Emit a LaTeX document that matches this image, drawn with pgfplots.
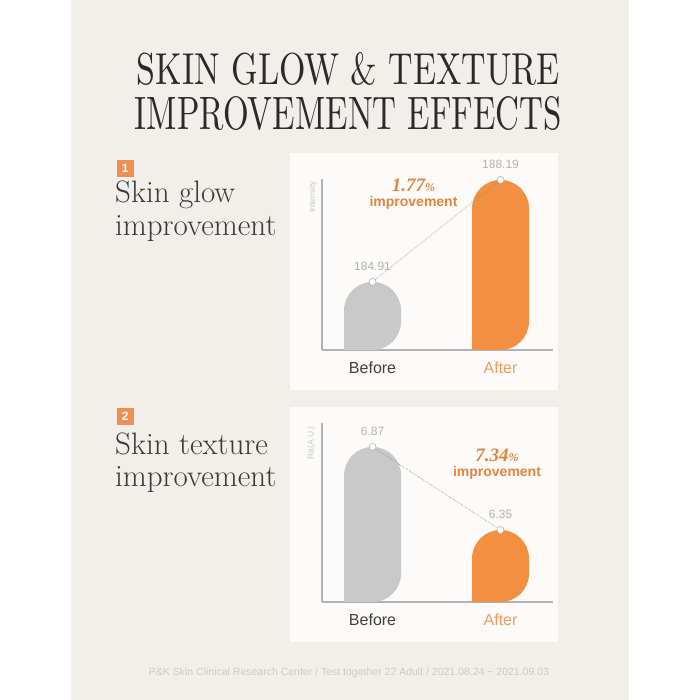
\documentclass[border=0pt]{standalone}
\usepackage{fontspec}
\usepackage{graphicx}
\usepackage{pgfplots}
\pgfplotsset{compat=1.18}
\newfontfamily\sans{Liberation Sans}
\newfontfamily\serifb{Liberation Serif}
\definecolor{bg}{RGB}{242,239,234}
\definecolor{panel}{RGB}{252,251,249}
\definecolor{barg}{RGB}{201,201,201}
\definecolor{baro}{RGB}{242,143,64}
\definecolor{badge}{RGB}{238,144,84}
\definecolor{anno}{RGB}{226,132,62}
\definecolor{afterc}{RGB}{236,158,98}
\definecolor{txt}{RGB}{42,42,42}
\definecolor{sub}{RGB}{58,58,58}
\definecolor{vlab}{RGB}{178,178,178}
\definecolor{foot}{RGB}{206,203,198}
\pgfplotsset{barchart/.style={
  scale only axis, width=231pt, xmin=-0.395, xmax=1.41,
  axis lines=left, axis line style={-, draw=black!30, line width=1.1pt},
  xtick={0,1}, xticklabels={Before,\textcolor{afterc}{After}},
  ytick=\empty, major tick length=0pt,
  xticklabel style={font=\sans\fontsize{16}{16}\selectfont, text=black!75, yshift=-8pt},
  clip=true, /pgf/number format/assume math mode=true,
  anchor=south west},
  pill/.style={ybar, bar width=57pt, bar shift=0pt, draw=none, rounded corners=28.5pt},
  corner/.style={ybar, bar width=29pt, bar shift=-14pt, draw=none},
  link/.style={densely dotted, draw=black!45, line width=0.6pt, mark=*, mark size=3.5pt,
  mark options={solid, fill=white, draw=black!30, line width=0.6pt},
  nodes near coords, every node near coord/.style={font=\sans\fontsize{12}{12}\selectfont, text=vlab, anchor=south, yshift=8pt}}}
\begin{document}
\begin{tikzpicture}[x=1pt,y=1pt]
\fill[white] (0,0) rectangle (700,700);
\fill[bg] (71,0) rectangle (629,700);
% title
\node[anchor=base, text=txt, inner sep=0pt] at (348.5,615) {\resizebox{423pt}{32pt}{SKIN GLOW \& TEXTURE}};
\node[anchor=base, text=txt, inner sep=0pt] at (348.5,570) {\resizebox{427pt}{33pt}{IMPROVEMENT EFFECTS}};
% panels
\fill[panel] (290,310) rectangle (558,547);
\fill[panel] (290,58) rectangle (558,293);
% badges and subtitles
\fill[badge] (117,523) rectangle (133.5,540);
\node[text=white, font=\sans\bfseries\fontsize{12}{12}\selectfont] at (125.2,531.5) {1};
\fill[badge] (117,275) rectangle (133.5,292);
\node[text=white, font=\sans\bfseries\fontsize{12}{12}\selectfont] at (125.2,283.5) {2};
\node[anchor=base west, inner sep=0pt, text=sub, font=\fontsize{31}{31}\selectfont] at (115,497) {Skin glow};
\node[anchor=base west, inner sep=0pt, text=sub, font=\fontsize{31}{31}\selectfont] at (115,464) {improvement};
\node[anchor=base west, inner sep=0pt, text=sub, font=\fontsize{31}{31}\selectfont] at (115,245) {Skin texture};
\node[anchor=base west, inner sep=0pt, text=sub, font=\fontsize{31}{31}\selectfont] at (115,213) {improvement};
% chart 1
\begin{axis}[barchart, at={(322pt,350pt)}, height=171pt, ymin=182.72, ymax=188.22]
\addplot[pill, fill=barg] coordinates {(0,184.91)};
\addplot[corner, fill=barg] coordinates {(0,183.64)};
\addplot[pill, fill=baro] coordinates {(1,188.19)};
\addplot[corner, fill=baro] coordinates {(1,183.64)};
\addplot[link] coordinates {(0,184.91) (1,188.19)};
\end{axis}
% chart 2
\begin{axis}[barchart, at={(322pt,98pt)}, height=179pt, ymin=5.899, ymax=7.02]
\addplot[pill, fill=barg] coordinates {(0,6.87)};
\addplot[corner, fill=barg] coordinates {(0,6.077)};
\addplot[pill, fill=baro] coordinates {(1,6.35)};
\addplot[corner, fill=baro] coordinates {(1,6.077)};
\addplot[link] coordinates {(0,6.87) (1,6.35)};
\end{axis}
% annotations
\node[rotate=90, text=black!22, font=\sans\fontsize{8.5}{8.5}\selectfont] at (313,503) {Intensity};
\node[rotate=90, text=black!22, font=\sans\fontsize{8.5}{8.5}\selectfont] at (311.5,257) {Ra(A.U.)};
\node[text=anno, font=\serifb\bfseries\itshape\fontsize{19}{19}\selectfont] at (413.5,515) {1.77{\fontsize{12}{12}\selectfont\%}};
\node[text=anno, font=\sans\bfseries\fontsize{14}{14}\selectfont] at (413.5,497) {improvement};
\node[text=anno, font=\serifb\bfseries\itshape\fontsize{19}{19}\selectfont] at (497,245) {7.34{\fontsize{12}{12}\selectfont\%}};
\node[text=anno, font=\sans\bfseries\fontsize{14}{14}\selectfont] at (497,227) {improvement};
% footer
\node[text=foot, font=\sans\fontsize{10.5}{10.5}\selectfont] at (349,27.3) {P\&K Skin Clinical Research Center / Test together 22 Adult / 2021.08.24 \textasciitilde{} 2021.09.03};
\end{tikzpicture}
\end{document}
